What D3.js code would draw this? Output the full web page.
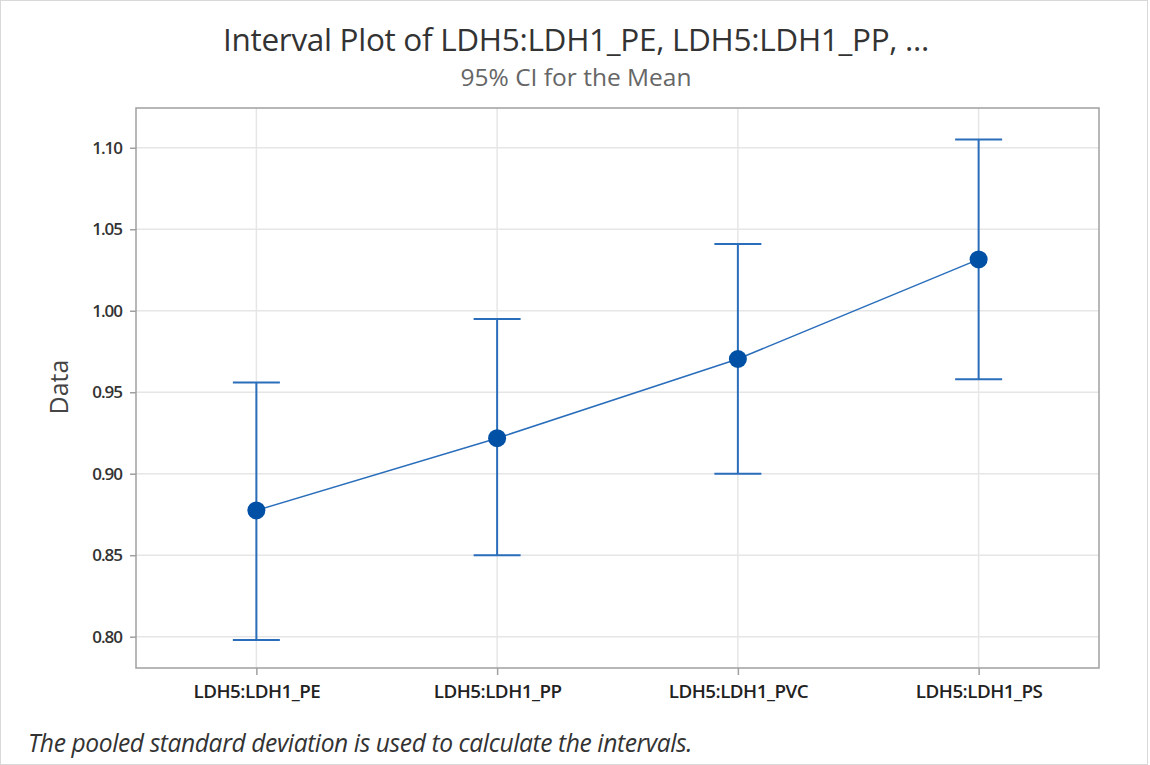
<!DOCTYPE html>
<html><head><meta charset="utf-8">
<script src="https://cdn.jsdelivr.net/npm/d3@7"></script>
<style>body{margin:0;background:#fff;} svg{display:block;}</style>
</head><body>
<script>
const categories = ["LDH5:LDH1_PE", "LDH5:LDH1_PP", "LDH5:LDH1_PVC", "LDH5:LDH1_PS"];
const means = [0.8775, 0.9218, 0.9704, 1.0315];
const lowers = [0.798, 0.850, 0.900, 0.958];
const uppers = [0.956, 0.995, 1.041, 1.105];
const yTicks = [0.80, 0.85, 0.90, 0.95, 1.00, 1.05, 1.10];
const titleText = "Interval Plot of LDH5:LDH1_PE, LDH5:LDH1_PP, ...";
const subtitleText = "95% CI for the Mean";
const yLabel = "Data";
const footnote = "The pooled standard deviation is used to calculate the intervals.";

const W = 1150, H = 765;
const plot = {left: 136, right: 1099, top: 108, bottom: 668};
const font = "'Open Sans', 'Noto Sans', sans-serif";
const blue = "#2a6ebb", dot = "#0050a5";

const svg = d3.select("body").append("svg").attr("width", W).attr("height", H);
svg.append("rect").attr("x", 0.5).attr("y", 0.5).attr("width", W - 3).attr("height", H - 1)
  .attr("fill", "#fff").attr("stroke", "#d9d9d9");

const x = d3.scalePoint().domain(categories).range([plot.left, plot.right]).padding(0.5);
const y = d3.scaleLinear().domain([0.7808, 1.1244]).range([plot.bottom, plot.top]);

// gridlines
svg.append("g").selectAll("line").data(yTicks).join("line")
  .attr("x1", plot.left).attr("x2", plot.right)
  .attr("y1", d => y(d)).attr("y2", d => y(d))
  .attr("stroke", "#e6e6e6").attr("stroke-width", 1.5);
svg.append("g").selectAll("line").data(categories).join("line")
  .attr("x1", d => x(d)).attr("x2", d => x(d))
  .attr("y1", plot.top).attr("y2", plot.bottom)
  .attr("stroke", "#e6e6e6").attr("stroke-width", 1.5);

// frame
svg.append("rect").attr("x", plot.left).attr("y", plot.top)
  .attr("width", plot.right - plot.left).attr("height", plot.bottom - plot.top)
  .attr("fill", "none").attr("stroke", "#a0a0a0").attr("stroke-width", 1.5);

// axes
const yAxis = d3.axisLeft(y).tickValues(yTicks).tickFormat(d3.format(".2f")).tickSize(6).tickPadding(8);
const gy = svg.append("g").attr("transform", `translate(${plot.left},0)`).call(yAxis);
gy.select(".domain").remove();
gy.selectAll(".tick line").attr("stroke", "#a0a0a0").attr("stroke-width", 1.5);
gy.selectAll(".tick text").attr("font-family", font).attr("font-size", 17).attr("fill", "#333")
  .attr("font-weight", 600).attr("letter-spacing", "-1px");

const xAxis = d3.axisBottom(x).tickSize(7).tickPadding(10);
const gx = svg.append("g").attr("transform", `translate(0,${plot.bottom})`).call(xAxis);
gx.select(".domain").remove();
gx.selectAll(".tick line").attr("stroke", "#a0a0a0").attr("stroke-width", 1.5);
gx.selectAll(".tick text").attr("font-family", font).attr("font-size", 18.8).attr("fill", "#222")
  .attr("font-weight", 600).attr("letter-spacing", "-0.5px");

// error bars
const data = categories.map((c, i) => ({c, m: means[i], lo: lowers[i], hi: uppers[i]}));
const eb = svg.append("g");
eb.selectAll(".v").data(data).join("line")
  .attr("x1", d => x(d.c)).attr("x2", d => x(d.c))
  .attr("y1", d => y(d.lo)).attr("y2", d => y(d.hi))
  .attr("stroke", blue).attr("stroke-width", 2);
eb.selectAll(".capHi").data(data).join("line")
  .attr("x1", d => x(d.c) - 23.5).attr("x2", d => x(d.c) + 23.5)
  .attr("y1", d => y(d.hi)).attr("y2", d => y(d.hi))
  .attr("stroke", blue).attr("stroke-width", 2);
eb.selectAll(".capLo").data(data).join("line")
  .attr("x1", d => x(d.c) - 23.5).attr("x2", d => x(d.c) + 23.5)
  .attr("y1", d => y(d.lo)).attr("y2", d => y(d.lo))
  .attr("stroke", blue).attr("stroke-width", 2);

// mean line
svg.append("path").datum(data)
  .attr("d", d3.line().x(d => x(d.c)).y(d => y(d.m)))
  .attr("fill", "none").attr("stroke", blue).attr("stroke-width", 1.5);

svg.append("g").selectAll("circle").data(data).join("circle")
  .attr("cx", d => x(d.c)).attr("cy", d => y(d.m)).attr("r", 9).attr("fill", dot);

// titles
svg.append("text").attr("x", 576).attr("y", 51).attr("text-anchor", "middle")
  .attr("font-family", font).attr("font-size", 31.5).attr("fill", "#333")
  .attr("letter-spacing", "-0.3px").text(titleText);
svg.append("text").attr("x", 576).attr("y", 86).attr("text-anchor", "middle")
  .attr("font-family", font).attr("font-size", 24.5).attr("fill", "#666")
  .attr("letter-spacing", "0px").text(subtitleText);
svg.append("text").attr("transform", `translate(68,${(plot.top + plot.bottom) / 2 - 1}) rotate(-90)`)
  .attr("text-anchor", "middle").attr("font-family", font).attr("font-size", 25).attr("fill", "#444")
  .text(yLabel);
svg.append("text").attr("x", 28).attr("y", 752)
  .attr("font-family", font).attr("font-size", 24.6).attr("font-style", "italic").attr("fill", "#333")
  .attr("letter-spacing", "-0.4px").text(footnote);
</script>
</body></html>
